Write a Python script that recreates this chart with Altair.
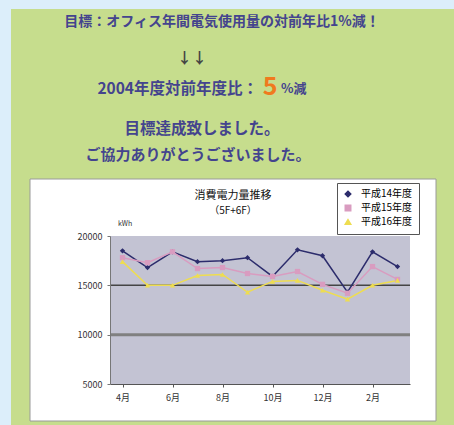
import altair as alt
import pandas as pd

# ---- data ----
months = ["4月", "5月", "6月", "7月", "8月", "9月", "10月", "11月", "12月", "1月", "2月", "3月"]
series_names = ["平成14年度", "平成15年度", "平成16年度"]
fy14 = [18500, 16800, 18400, 17400, 17500, 17800, 15900, 18600, 18000, 14300, 18400, 16900]
fy15 = [17800, 17300, 18400, 16700, 16800, 16200, 15900, 16400, 15100, 14200, 16900, 15600]
fy16 = [17400, 15000, 15000, 16000, 16100, 14300, 15400, 15500, 14500, 13600, 15000, 15500]
y_ticks = [5000, 10000, 15000, 20000]
x_label_months = ["4月", "6月", "8月", "10月", "12月", "2月"]
ref_lines = [15000, 10000]

headline = "目標：オフィス年間電気使用量の対前年比1%減！"
arrows = "↓↓"
result_pre = "2004年度対前年度比："
result_num = "5"
result_post = "%減"
thanks1 = "目標達成致しました。"
thanks2 = "ご協力ありがとうございました。"
chart_title = "消費電力量推移"
chart_sub = "（5F+6F）"
unit = "kWh"

colors = ["#2C2C6C", "#D99CC0", "#EEDD50"]
shapes = ["diamond", "square", "triangle-up"]

rows = []
for name, vals in zip(series_names, [fy14, fy15, fy16]):
    for m, v in zip(months, vals):
        rows.append({"month": m, "series": name, "kwh": v})
df = pd.DataFrame(rows)
one = pd.DataFrame({"k": [0]})

FONT = "Noto Sans CJK JP"
TXT = "#44448E"

xscale = alt.Scale(type="point", domain=months, range=[110, 410], padding=0.5)
yscale = alt.Scale(domain=[5000, 20000], range=[384, 236], nice=False, zero=False)
cscale = alt.Scale(domain=series_names, range=colors)
sscale = alt.Scale(domain=series_names, range=shapes)

xaxis = alt.Axis(values=x_label_months, orient="bottom", offset=-41, labelAngle=0,
                 labelFontSize=9, labelFont=FONT, labelColor="#333333",
                 domainColor="#555555", tickColor="#555555", tickSize=3,
                 labelPadding=6, grid=False, title=None, zindex=1)
yaxis = alt.Axis(values=y_ticks, orient="left", offset=-110, format="d",
                 labelFontSize=9, labelFont=FONT, labelColor="#333333",
                 domainColor="#777777", tickColor="#777777", tickSize=3,
                 labelPadding=5, grid=False, title=None, zindex=1)
leg = alt.Legend(orient="none", legendX=337, legendY=183, title=None,
                 fillColor="white", strokeColor="#555555", padding=6,
                 labelFontSize=10, labelFont=FONT, labelColor="#000000",
                 symbolSize=30, rowPadding=2, labelOffset=8)


def yenc(field="kwh"):
    return alt.Y(f"{field}:Q", scale=yscale, axis=yaxis)


def box(x1, x2, y1, y2, **kw):
    return alt.Chart(one).mark_rect(**kw).encode(
        x=alt.value(x1), x2=alt.value(x2), y=alt.value(y1), y2=alt.value(y2))


def txt(s, x, y, size, color=TXT, align="center", weight="bold"):
    return alt.Chart(one).mark_text(text=s, fontSize=size, font=FONT, color=color,
                                    align=align, baseline="middle", fontWeight=weight
                                    ).encode(x=alt.value(x), y=alt.value(y))


green = box(11, 454, 9, 425, fill="#C6DD8D")
white = box(30, 436, 179, 421, fill="white", stroke="#9A9A9A", strokeWidth=1)
plot_bg = box(110, 410, 236, 384, fill="#C3C3D3")

rule15 = alt.Chart(pd.DataFrame({"kwh": [ref_lines[0]]})).mark_rule(
    color="#454545", strokeWidth=1.5).encode(y=yenc(), x=alt.value(110), x2=alt.value(410))
rule10 = alt.Chart(pd.DataFrame({"kwh": [ref_lines[1]]})).mark_rule(
    color="#808080", strokeWidth=3).encode(y=yenc(), x=alt.value(110), x2=alt.value(410))

lines = alt.Chart(df).mark_line(strokeWidth=1.5).encode(
    x=alt.X("month:N", scale=xscale, axis=xaxis),
    y=yenc(),
    color=alt.Color("series:N", scale=cscale, legend=leg),
    detail="series:N",
)
points = alt.Chart(df).mark_point(filled=True, size=28, opacity=1).encode(
    x=alt.X("month:N", scale=xscale, axis=xaxis),
    y=yenc(),
    color=alt.Color("series:N", scale=cscale, legend=leg),
    shape=alt.Shape("series:N", scale=sscale, legend=leg),
)

texts = [
    txt(headline, 222, 22, 14),
    txt(arrows, 192, 58, 15, color="#444444"),
    txt(result_pre, 258, 89, 15.5, align="right"),
    txt(result_num, 270, 87, 25, color="#F07A1E"),
    txt(result_post, 281, 89, 13, align="left"),
    txt(thanks1, 202, 129, 15.5),
    txt(thanks2, 198, 155, 15),
    txt(chart_title, 233, 196, 11, color="#111111", weight="normal"),
    txt(chart_sub, 233, 211, 10, color="#111111", weight="normal"),
    txt(unit, 125, 224, 7, color="#333333", weight="normal"),
]

chart = alt.layer(green, white, plot_bg, rule15, rule10, lines, points, *texts).properties(
    width=454, height=425, padding=0,
    autosize=alt.AutoSizeParams(type="none"),
    background="#DCEEFA",
).configure_view(stroke=None)

chart.save("out.html", embed_options={"renderer": "svg", "actions": False})
